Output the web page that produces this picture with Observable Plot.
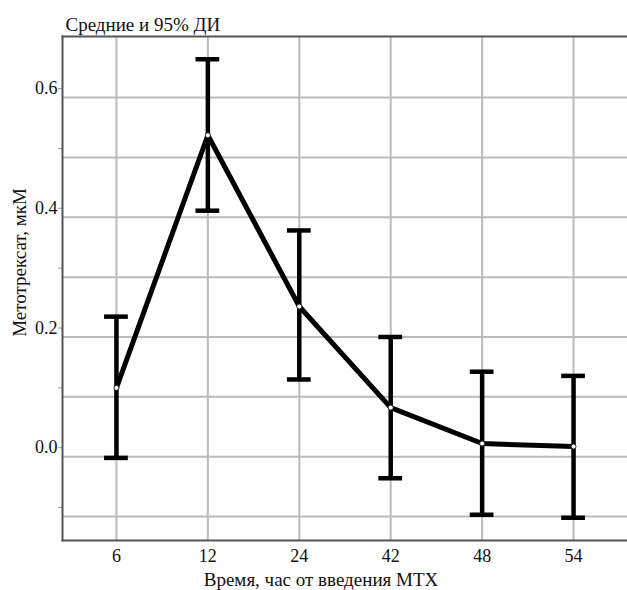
<!DOCTYPE html>
<html>
<head>
<meta charset="utf-8">
<script src="https://cdn.jsdelivr.net/npm/d3@7"></script>
<script src="https://cdn.jsdelivr.net/npm/@observablehq/plot@0.6"></script>
<style>
  html, body { margin: 0; padding: 0; background: #fff; }
</style>
</head>
<body>
<div id="chart"></div>
<script>
const categories = ["6", "12", "24", "42", "48", "54"];
const means = [0.115, 0.537, 0.251, 0.082, 0.022, 0.017];
const lower = [-0.002, 0.411, 0.129, -0.036, -0.097, -0.102];
const upper = [0.234, 0.664, 0.378, 0.200, 0.142, 0.135];
const gridY = [-0.1, 0, 0.1, 0.2, 0.3, 0.4, 0.5, 0.6];
const labeledY = [0, 0.2, 0.4, 0.6];
const title = "Средние и 95% ДИ";
const xLabel = "Время, час от введения МТХ";
const yLabel = "Метотрексат, мкМ";

const data = categories.map((c, i) => ({i, c, mean: means[i], lo: lower[i], hi: upper[i]}));
const capHalf = 0.13;
const serif = "'Liberation Serif', 'Times New Roman', serif";

const plot = Plot.plot({
  width: 627,
  height: 590,
  marginLeft: 62,
  marginRight: 0,
  marginTop: 36,
  marginBottom: 50,
  style: {fontFamily: serif, fontSize: "18px", color: "#111", background: "#fff"},
  x: {type: "linear", domain: [-0.59, categories.length - 1 + 0.59], axis: null},
  y: {domain: [-0.14, 0.702], axis: null},
  marks: [
    Plot.ruleY(gridY, {stroke: "#bbb", strokeWidth: 2}),
    Plot.ruleX(data, {x: "i", stroke: "#bbb", strokeWidth: 2}),
    Plot.axisY({ticks: gridY, tickSize: 4, tickPadding: 1, stroke: "#999", label: null,
      tickFormat: d => labeledY.some(v => Math.abs(v - d) < 1e-9) ? d3.format(".1f")(d) : "",
      dy: -9, fill: "#111", fontSize: 18}),
    Plot.axisX({ticks: data.map(d => d.i), tickSize: 0, tickPadding: 9, label: null,
      tickFormat: i => categories[i], fill: "#111", fontSize: 18}),
    Plot.frame({anchor: "left", stroke: "#555", strokeWidth: 2}),
    Plot.frame({anchor: "top", stroke: "#555", strokeWidth: 2}),
    Plot.frame({anchor: "bottom", stroke: "#555", strokeWidth: 2}),
    Plot.ruleX(data, {x: "i", y1: "lo", y2: "hi", stroke: "#000", strokeWidth: 4.5}),
    Plot.ruleY(data, {y: "hi", x1: d => d.i - capHalf, x2: d => d.i + capHalf, stroke: "#000", strokeWidth: 4.5}),
    Plot.ruleY(data, {y: "lo", x1: d => d.i - capHalf, x2: d => d.i + capHalf, stroke: "#000", strokeWidth: 4.5}),
    Plot.line(data, {x: "i", y: "mean", stroke: "#000", strokeWidth: 5, strokeLinejoin: "round"}),
    Plot.dot(data, {x: "i", y: "mean", r: 2.5, fill: "#fff", stroke: "#222", strokeWidth: 1}),
    Plot.text([title], {frameAnchor: "top-left", textAnchor: "start", lineAnchor: "bottom", dx: 3, dy: -6, fontSize: 19, fill: "#111"}),
    Plot.text([xLabel], {frameAnchor: "bottom", textAnchor: "middle", lineAnchor: "bottom", dx: -24, dy: 45, fontSize: 19, fill: "#111"}),
    Plot.text([yLabel], {frameAnchor: "left", textAnchor: "middle", rotate: -90, dx: -43, dy: -26, fontSize: 19, fill: "#111"})
  ]
});
document.getElementById("chart").appendChild(plot);
</script>
</body>
</html>
